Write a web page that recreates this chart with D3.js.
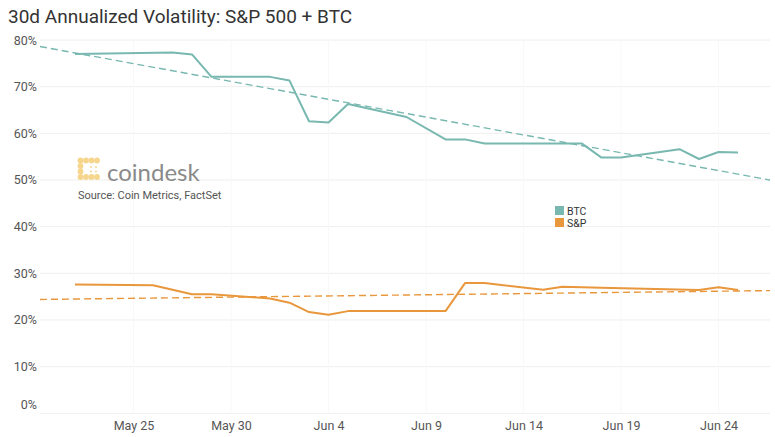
<!DOCTYPE html>
<html><head><meta charset="utf-8">
<script src="https://cdn.jsdelivr.net/npm/d3@7"></script>
<style>body{margin:0;background:#fff;}svg{display:block;font-family:Roboto,"Noto Sans",sans-serif;}</style>
</head><body>
<svg id="c" width="775" height="437"></svg>
<script>
const btcDates = ["2022-05-22","2022-05-27","2022-05-28","2022-05-29","2022-06-01","2022-06-02","2022-06-03","2022-06-04","2022-06-05","2022-06-08","2022-06-10","2022-06-11","2022-06-12","2022-06-17","2022-06-18","2022-06-19","2022-06-22","2022-06-23","2022-06-24","2022-06-25"];
const btcValues = [77.0,77.3,76.9,72.1,72.1,71.3,62.6,62.3,66.3,63.5,58.7,58.7,57.8,57.8,54.8,54.8,56.6,54.5,56.0,55.9];
const spDates = ["2022-05-22","2022-05-26","2022-05-28","2022-05-29","2022-06-01","2022-06-02","2022-06-03","2022-06-04","2022-06-05","2022-06-10","2022-06-11","2022-06-12","2022-06-15","2022-06-16","2022-06-18","2022-06-23","2022-06-24","2022-06-25"];
const spValues = [27.6,27.45,25.5,25.5,24.6,23.7,21.7,21.1,21.9,21.9,27.9,27.9,26.5,27.1,26.9,26.4,27.0,26.4];
const btcTrend = [78.6, 50.0];
const spTrend = [24.4, 26.3];
const yTicks = [0,10,20,30,40,50,60,70,80];
const xTickDates = ["2022-05-25","2022-05-30","2022-06-04","2022-06-09","2022-06-14","2022-06-19","2022-06-24"];
const seriesNames = ["BTC","S&P"];
const colors = {BTC:"#78b8b0", "S&P":"#e9973c"};

const parse = d3.utcParse("%Y-%m-%d");
const DAY = 864e5;
const t0 = parse("2022-05-22").getTime();
const svg = d3.select("#c");
const mLeft = 40, mRight = 770, mTop = 40, mBottom = 413.3;
const x = d3.scaleUtc().domain([new Date(t0 - 1.795*DAY), new Date(t0 + 35.64*DAY)]).range([mLeft, mRight]);
const y = d3.scaleLinear().domain([0, 80]).range([mBottom, mTop]);

// title
svg.append("text").attr("x", 8).attr("y", 23).attr("font-size", 19).attr("fill", "#333").text("30d Annualized Volatility: S&P 500 + BTC");

// grid
svg.append("g").selectAll("line").data(yTicks).join("line")
  .attr("x1", mLeft).attr("x2", mRight).attr("y1", d => y(d)).attr("y2", d => y(d))
  .attr("stroke", "#eeeeee").attr("stroke-width", 1);
svg.append("g").selectAll("line").data(xTickDates).join("line")
  .attr("x1", d => x(parse(d))).attr("x2", d => x(parse(d))).attr("y1", mTop).attr("y2", mBottom)
  .attr("stroke", "#f8f8f8").attr("stroke-width", 1);

// y axis labels
const yAxis = d3.axisLeft(y).tickValues(yTicks).tickFormat(d => d + "%").tickSize(0).tickPadding(3);
const ya = svg.append("g").attr("transform", `translate(${mLeft},0)`).call(yAxis);
ya.select(".domain").remove();
ya.selectAll("text").attr("font-size", 12.5).attr("fill", "#555").attr("font-family", "Roboto, sans-serif")
  .attr("dy", d => d === 0 ? "-0.35em" : "0.32em");

// x axis
const xAxis = d3.axisBottom(x).tickValues(xTickDates.map(parse)).tickFormat(d3.utcFormat("%b %-d")).tickSize(0).tickPadding(8);
const xa = svg.append("g").attr("transform", `translate(0,${mBottom})`).call(xAxis);
xa.select(".domain").remove();
xa.selectAll("text").attr("font-size", 12.5).attr("fill", "#555").attr("font-family", "Roboto, sans-serif");

// logo
const logo = svg.append("g").attr("transform", "translate(78,158)");
const dots = [[2.5,2.5],[8,2.5],[13.5,2.5],[19,2.5],[2.5,8],[2.5,13.5],[2.5,19],[8,19],[13.5,19],[19,19]];
logo.selectAll("circle.big").data(dots).join("circle").attr("cx", d => d[0]).attr("cy", d => d[1]).attr("r", 2.9).attr("fill", "#f6d68c");
logo.selectAll("circle.small").data([[13,9],[18,9],[13,13.5],[18,13.5]]).join("circle").attr("cx", d => d[0]).attr("cy", d => d[1]).attr("r", 1).attr("fill", "#f6d68c");
svg.append("text").attr("x", 107).attr("y", 181).attr("font-size", 24).attr("fill", "#8a8a8a").attr("font-family", "Lato, Roboto, sans-serif").text("coindesk");
svg.append("text").attr("x", 78).attr("y", 199).attr("font-size", 11).attr("fill", "#555").text("Source: Coin Metrics, FactSet");

// lines
const line = d3.line().x(d => x(d[0])).y(d => y(d[1]));
const btc = btcDates.map((d, i) => [parse(d), btcValues[i]]);
const sp = spDates.map((d, i) => [parse(d), spValues[i]]);
const dom = x.domain();
function trend(vals, c) {
  svg.append("path").attr("d", line([[dom[0], vals[0]], [dom[1], vals[1]]]))
    .attr("fill", "none").attr("stroke", c).attr("stroke-width", 1.4).attr("stroke-dasharray", "7,4");
}
trend(btcTrend, colors.BTC);
trend(spTrend, colors["S&P"]);
svg.append("path").attr("d", line(btc)).attr("fill", "none").attr("stroke", colors.BTC).attr("stroke-width", 2).attr("stroke-linejoin", "round");
svg.append("path").attr("d", line(sp)).attr("fill", "none").attr("stroke", colors["S&P"]).attr("stroke-width", 2).attr("stroke-linejoin", "round");

// legend
const lg = svg.append("g").attr("transform", "translate(555,206)");
seriesNames.forEach((n, i) => {
  lg.append("rect").attr("x", 0).attr("y", i * 12).attr("width", 9).attr("height", 9).attr("fill", colors[n]);
  lg.append("text").attr("x", 12).attr("y", i * 12 + 8.5).attr("font-size", 10.5).attr("fill", "#333").text(n);
});
</script>
</body></html>
